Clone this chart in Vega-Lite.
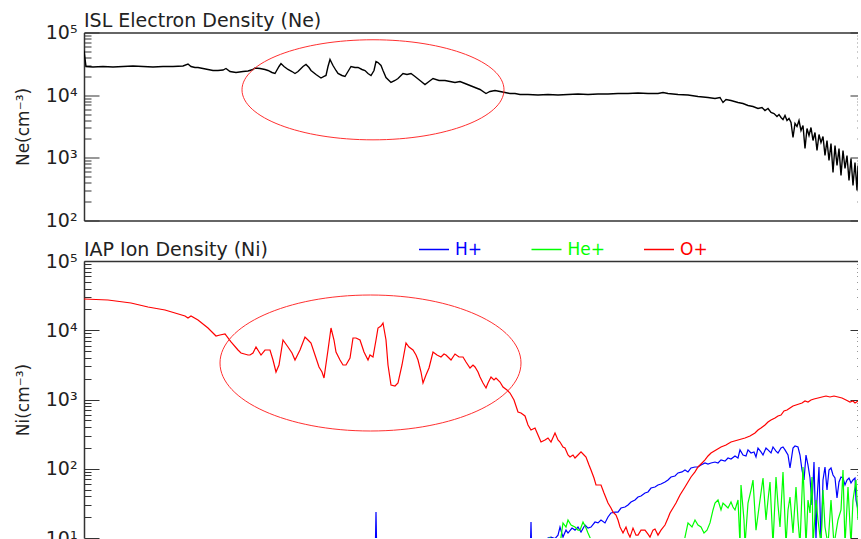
{
  "$schema": "https://vega.github.io/schema/vega-lite/v6.json",
  "background": "white",
  "padding": {"left": 14, "top": 11.5, "right": 0, "bottom": 0},
  "spacing": 9.5,
  "config": {
    "view": {"stroke": null},
    "font": "DejaVu Sans",
    "axis": {"domainColor": "#333", "domainWidth": 1.5, "tickColor": "#333", "labelColor": "#222", "titleColor": "#222", "labelFont": "DejaVu Sans", "titleFont": "DejaVu Sans", "labelFontSize": 19, "titleFontSize": 17, "titleFontWeight": "normal"},
    "title": {"font": "DejaVu Sans", "fontSize": 19, "fontWeight": "normal", "color": "#222", "anchor": "start", "frame": "group", "baseline": "alphabetic", "offset": -7.5}
  },
  "datasets": {
    "ne": [
      {"t":0,"ne":51620},{"t":2,"ne":28680},{"t":9,"ne":28150},{"t":19,"ne":28680},{"t":29,"ne":28150},{"t":39,"ne":28680},{"t":49,"ne":29210},{"t":59,"ne":28680},{"t":69,"ne":28150},{"t":79,"ne":28680},{"t":89,"ne":28680},{"t":99,"ne":29210},{"t":104,"ne":31440},{"t":107,"ne":28680},{"t":111,"ne":27640},{"t":114,"ne":27640},{"t":119,"ne":26650},{"t":124,"ne":25680},{"t":129,"ne":24760},{"t":134,"ne":24760},{"t":139,"ne":25210},{"t":142,"ne":26650},{"t":146,"ne":23860},{"t":152,"ne":23000},{"t":159,"ne":23860},{"t":164,"ne":24310},{"t":169,"ne":25680},{"t":171,"ne":27140},{"t":176,"ne":26650},{"t":181,"ne":25680},{"t":184,"ne":24760},{"t":188,"ne":23000},{"t":191,"ne":22170},{"t":195,"ne":28680},{"t":197,"ne":32020},{"t":200,"ne":28680},{"t":204,"ne":25680},{"t":208,"ne":23860},{"t":211,"ne":22170},{"t":214,"ne":23860},{"t":216,"ne":25680},{"t":219,"ne":28680},{"t":222,"ne":30870},{"t":225,"ne":27640},{"t":227,"ne":24760},{"t":232,"ne":21370},{"t":237,"ne":18790},{"t":240,"ne":19860},{"t":242,"ne":20600},{"t":244,"ne":28680},{"t":246,"ne":37070},{"t":248,"ne":32020},{"t":249,"ne":29750},{"t":252,"ne":24760},{"t":254,"ne":22170},{"t":258,"ne":20600},{"t":261,"ne":19860},{"t":264,"ne":23860},{"t":267,"ne":28680},{"t":271,"ne":27640},{"t":274,"ne":27640},{"t":278,"ne":25680},{"t":281,"ne":24760},{"t":284,"ne":22170},{"t":287,"ne":20600},{"t":290,"ne":24760},{"t":292,"ne":34460},{"t":294,"ne":33210},{"t":297,"ne":29750},{"t":299,"ne":24760},{"t":302,"ne":19140},{"t":305,"ne":17150},{"t":307,"ne":15930},{"t":311,"ne":17150},{"t":314,"ne":18450},{"t":317,"ne":20600},{"t":319,"ne":22170},{"t":323,"ne":21370},{"t":327,"ne":22170},{"t":331,"ne":19860},{"t":336,"ne":17150},{"t":341,"ne":14800},{"t":345,"ne":16530},{"t":349,"ne":18450},{"t":355,"ne":17150},{"t":361,"ne":17150},{"t":366,"ne":16530},{"t":371,"ne":15930},{"t":376,"ne":16530},{"t":381,"ne":15360},{"t":386,"ne":14260},{"t":391,"ne":13260},{"t":396,"ne":12320},{"t":402,"ne":10630},{"t":406,"ne":11450},{"t":411,"ne":11870},{"t":416,"ne":11450},{"t":421,"ne":11030},{"t":426,"ne":10630},{"t":431,"ne":10630},{"t":436,"ne":10250},{"t":444,"ne":10250},{"t":454,"ne":10060},{"t":464,"ne":10250},{"t":474,"ne":10060},{"t":484,"ne":10250},{"t":494,"ne":10440},{"t":504,"ne":10250},{"t":514,"ne":10440},{"t":524,"ne":10440},{"t":534,"ne":10630},{"t":544,"ne":10630},{"t":554,"ne":10830},{"t":564,"ne":10630},{"t":574,"ne":10630},{"t":579,"ne":11030},{"t":584,"ne":10630},{"t":594,"ne":10250},{"t":604,"ne":10060},{"t":614,"ne":9520},{"t":624,"ne":9180},{"t":631,"ne":8850},{"t":636,"ne":9180},{"t":639,"ne":7640},{"t":642,"ne":8530},{"t":647,"ne":8220},{"t":654,"ne":7640},{"t":659,"ne":7365},{"t":664,"ne":6840},{"t":669,"ne":6595},{"t":674,"ne":6130},{"t":678,"ne":6360},{"t":681,"ne":5690},{"t":684,"ne":6130},{"t":687,"ne":5290},{"t":690,"ne":5100},{"t":693,"ne":4566},{"t":695,"ne":4917},{"t":697,"ne":4403},{"t":699,"ne":4090},{"t":701,"ne":4740},{"t":703,"ne":3940},{"t":705,"ne":4240},{"t":707,"ne":3660},{"t":709,"ne":2110},{"t":711,"ne":3532},{"t":713,"ne":3163},{"t":715,"ne":3940},{"t":717,"ne":2730},{"t":719,"ne":3280},{"t":721,"ne":1410},{"t":723,"ne":2940},{"t":725,"ne":2270},{"t":727,"ne":3049},{"t":729,"ne":1890},{"t":731,"ne":2537},{"t":733,"ne":1310},{"t":735,"ne":2357},{"t":737,"ne":1757},{"t":739,"ne":2190},{"t":741,"ne":1090},{"t":743,"ne":1890},{"t":745,"ne":907},{"t":747,"ne":1690},{"t":749,"ne":583},{"t":751,"ne":1570},{"t":753,"ne":755},{"t":755,"ne":1410},{"t":757,"ne":523},{"t":759,"ne":1310},{"t":761,"ne":676},{"t":763,"ne":1090},{"t":765,"ne":435},{"t":767,"ne":976},{"t":769,"ne":362},{"t":771,"ne":843},{"t":773,"ne":301},{"t":774,"ne":755}
    ],
    "ions": [
      {"t":0,"sp":"H+","n":4},{"t":291,"sp":"H+","n":4},{"t":292,"sp":"H+","n":23.7},{"t":293,"sp":"H+","n":4},{"t":446,"sp":"H+","n":4},{"t":447,"sp":"H+","n":17},{"t":448,"sp":"H+","n":4},{"t":459,"sp":"H+","n":4},{"t":464,"sp":"H+","n":10},{"t":467,"sp":"H+","n":10.3},{"t":471,"sp":"H+","n":9.8},{"t":474,"sp":"H+","n":11},{"t":476,"sp":"H+","n":14.4},{"t":479,"sp":"H+","n":10.3},{"t":482,"sp":"H+","n":13},{"t":484,"sp":"H+","n":11.8},{"t":488,"sp":"H+","n":13.9},{"t":491,"sp":"H+","n":13},{"t":494,"sp":"H+","n":14.4},{"t":497,"sp":"H+","n":12.2},{"t":501,"sp":"H+","n":15.4},{"t":504,"sp":"H+","n":13.9},{"t":507,"sp":"H+","n":14.4},{"t":511,"sp":"H+","n":17},{"t":514,"sp":"H+","n":16.5},{"t":517,"sp":"H+","n":18.2},{"t":521,"sp":"H+","n":16.5},{"t":524,"sp":"H+","n":20.1},{"t":527,"sp":"H+","n":23},{"t":531,"sp":"H+","n":23.7},{"t":534,"sp":"H+","n":23.7},{"t":537,"sp":"H+","n":27.1},{"t":541,"sp":"H+","n":28},{"t":544,"sp":"H+","n":30},{"t":547,"sp":"H+","n":33.1},{"t":551,"sp":"H+","n":35.4},{"t":554,"sp":"H+","n":39.1},{"t":557,"sp":"H+","n":40.4},{"t":561,"sp":"H+","n":44.6},{"t":564,"sp":"H+","n":46.2},{"t":567,"sp":"H+","n":52.7},{"t":571,"sp":"H+","n":54.5},{"t":574,"sp":"H+","n":58.3},{"t":577,"sp":"H+","n":60.2},{"t":581,"sp":"H+","n":64.4},{"t":584,"sp":"H+","n":68.8},{"t":587,"sp":"H+","n":76},{"t":591,"sp":"H+","n":78.6},{"t":594,"sp":"H+","n":87},{"t":598,"sp":"H+","n":90},{"t":601,"sp":"H+","n":96},{"t":604,"sp":"H+","n":90},{"t":607,"sp":"H+","n":102.5},{"t":611,"sp":"H+","n":106},{"t":614,"sp":"H+","n":106},{"t":617,"sp":"H+","n":113},{"t":621,"sp":"H+","n":121},{"t":624,"sp":"H+","n":117},{"t":627,"sp":"H+","n":121},{"t":631,"sp":"H+","n":125},{"t":634,"sp":"H+","n":121},{"t":637,"sp":"H+","n":134},{"t":641,"sp":"H+","n":129},{"t":644,"sp":"H+","n":143},{"t":647,"sp":"H+","n":138},{"t":651,"sp":"H+","n":153},{"t":654,"sp":"H+","n":143},{"t":656,"sp":"H+","n":187},{"t":659,"sp":"H+","n":158},{"t":662,"sp":"H+","n":153},{"t":664,"sp":"H+","n":187},{"t":667,"sp":"H+","n":169},{"t":670,"sp":"H+","n":175},{"t":672,"sp":"H+","n":148},{"t":674,"sp":"H+","n":199},{"t":677,"sp":"H+","n":175},{"t":679,"sp":"H+","n":158},{"t":682,"sp":"H+","n":199},{"t":684,"sp":"H+","n":187},{"t":687,"sp":"H+","n":169},{"t":689,"sp":"H+","n":206},{"t":692,"sp":"H+","n":180},{"t":694,"sp":"H+","n":169},{"t":697,"sp":"H+","n":199},{"t":699,"sp":"H+","n":206},{"t":701,"sp":"H+","n":187},{"t":704,"sp":"H+","n":158},{"t":706,"sp":"H+","n":102.5},{"t":709,"sp":"H+","n":199},{"t":711,"sp":"H+","n":213},{"t":714,"sp":"H+","n":206},{"t":716,"sp":"H+","n":158},{"t":718,"sp":"H+","n":96},{"t":720,"sp":"H+","n":68.8},{"t":722,"sp":"H+","n":158},{"t":724,"sp":"H+","n":113},{"t":726,"sp":"H+","n":73.5},{"t":728,"sp":"H+","n":30},{"t":730,"sp":"H+","n":125},{"t":732,"sp":"H+","n":9.5},{"t":733,"sp":"H+","n":35.4},{"t":735,"sp":"H+","n":106},{"t":737,"sp":"H+","n":8},{"t":739,"sp":"H+","n":68.8},{"t":741,"sp":"H+","n":106},{"t":743,"sp":"H+","n":49.3},{"t":745,"sp":"H+","n":96},{"t":747,"sp":"H+","n":102.5},{"t":749,"sp":"H+","n":81.2},{"t":751,"sp":"H+","n":73.5},{"t":753,"sp":"H+","n":37.8},{"t":755,"sp":"H+","n":64.4},{"t":757,"sp":"H+","n":76},{"t":759,"sp":"H+","n":73.5},{"t":761,"sp":"H+","n":58.3},{"t":763,"sp":"H+","n":68.8},{"t":765,"sp":"H+","n":73.5},{"t":767,"sp":"H+","n":62.3},{"t":769,"sp":"H+","n":68.8},{"t":771,"sp":"H+","n":73.5},{"t":772,"sp":"H+","n":35.4},{"t":774,"sp":"H+","n":25.4},
      {"t":0,"sp":"He+","n":4},{"t":462,"sp":"He+","n":4},{"t":466,"sp":"He+","n":10.3},{"t":469,"sp":"He+","n":4},{"t":475,"sp":"He+","n":4},{"t":477,"sp":"He+","n":10.3},{"t":479,"sp":"He+","n":16.5},{"t":482,"sp":"He+","n":14.4},{"t":484,"sp":"He+","n":18.2},{"t":487,"sp":"He+","n":15.4},{"t":491,"sp":"He+","n":14.4},{"t":494,"sp":"He+","n":13},{"t":496,"sp":"He+","n":13},{"t":499,"sp":"He+","n":17},{"t":502,"sp":"He+","n":13.9},{"t":504,"sp":"He+","n":11.8},{"t":507,"sp":"He+","n":9.4},{"t":510,"sp":"He+","n":4},{"t":597,"sp":"He+","n":4},{"t":601,"sp":"He+","n":10.3},{"t":604,"sp":"He+","n":16.5},{"t":608,"sp":"He+","n":14.4},{"t":611,"sp":"He+","n":18.2},{"t":614,"sp":"He+","n":15.4},{"t":617,"sp":"He+","n":14.4},{"t":620,"sp":"He+","n":11.8},{"t":623,"sp":"He+","n":13},{"t":626,"sp":"He+","n":16.5},{"t":629,"sp":"He+","n":25.4},{"t":631,"sp":"He+","n":32},{"t":634,"sp":"He+","n":35.4},{"t":637,"sp":"He+","n":25.4},{"t":639,"sp":"He+","n":32},{"t":641,"sp":"He+","n":30},{"t":644,"sp":"He+","n":27.1},{"t":647,"sp":"He+","n":33.1},{"t":649,"sp":"He+","n":28},{"t":651,"sp":"He+","n":25.4},{"t":654,"sp":"He+","n":35.4},{"t":656,"sp":"He+","n":8},{"t":657,"sp":"He+","n":58.3},{"t":660,"sp":"He+","n":18.2},{"t":661,"sp":"He+","n":8},{"t":664,"sp":"He+","n":32},{"t":667,"sp":"He+","n":49.3},{"t":669,"sp":"He+","n":68.8},{"t":672,"sp":"He+","n":13},{"t":674,"sp":"He+","n":21.5},{"t":676,"sp":"He+","n":35.4},{"t":679,"sp":"He+","n":73.5},{"t":682,"sp":"He+","n":18.2},{"t":684,"sp":"He+","n":35.4},{"t":686,"sp":"He+","n":64.4},{"t":689,"sp":"He+","n":8},{"t":692,"sp":"He+","n":76},{"t":694,"sp":"He+","n":30},{"t":696,"sp":"He+","n":14.4},{"t":699,"sp":"He+","n":90},{"t":702,"sp":"He+","n":8},{"t":704,"sp":"He+","n":25.4},{"t":706,"sp":"He+","n":39.1},{"t":709,"sp":"He+","n":11.8},{"t":712,"sp":"He+","n":54.5},{"t":714,"sp":"He+","n":18.2},{"t":716,"sp":"He+","n":8},{"t":719,"sp":"He+","n":106},{"t":722,"sp":"He+","n":8},{"t":724,"sp":"He+","n":35.4},{"t":726,"sp":"He+","n":23},{"t":728,"sp":"He+","n":76},{"t":729,"sp":"He+","n":8},{"t":732,"sp":"He+","n":35.4},{"t":734,"sp":"He+","n":18.2},{"t":737,"sp":"He+","n":8},{"t":739,"sp":"He+","n":49.3},{"t":741,"sp":"He+","n":14.4},{"t":744,"sp":"He+","n":8},{"t":747,"sp":"He+","n":35.4},{"t":750,"sp":"He+","n":8},{"t":754,"sp":"He+","n":18.2},{"t":757,"sp":"He+","n":25.4},{"t":759,"sp":"He+","n":96},{"t":761,"sp":"He+","n":8},{"t":764,"sp":"He+","n":54.5},{"t":767,"sp":"He+","n":8},{"t":769,"sp":"He+","n":35.4},{"t":772,"sp":"He+","n":68.8},{"t":774,"sp":"He+","n":18.2},
      {"t":0,"sp":"O+","n":28270},{"t":24,"sp":"O+","n":27340},{"t":47,"sp":"O+","n":24750},{"t":64,"sp":"O+","n":21660},{"t":81,"sp":"O+","n":19610},{"t":101,"sp":"O+","n":16060},{"t":104,"sp":"O+","n":15030},{"t":107,"sp":"O+","n":16060},{"t":114,"sp":"O+","n":14060},{"t":124,"sp":"O+","n":10780},{"t":132,"sp":"O+","n":8260},{"t":136,"sp":"O+","n":8540},{"t":141,"sp":"O+","n":8830},{"t":147,"sp":"O+","n":6770},{"t":154,"sp":"O+","n":5185},{"t":157,"sp":"O+","n":4695},{"t":164,"sp":"O+","n":4390},{"t":166,"sp":"O+","n":4390},{"t":169,"sp":"O+","n":4695},{"t":172,"sp":"O+","n":5730},{"t":177,"sp":"O+","n":4390},{"t":181,"sp":"O+","n":5185},{"t":186,"sp":"O+","n":5185},{"t":189,"sp":"O+","n":3720},{"t":192,"sp":"O+","n":2495},{"t":195,"sp":"O+","n":3150},{"t":199,"sp":"O+","n":7230},{"t":204,"sp":"O+","n":5730},{"t":208,"sp":"O+","n":4695},{"t":211,"sp":"O+","n":3720},{"t":216,"sp":"O+","n":5185},{"t":221,"sp":"O+","n":7990},{"t":224,"sp":"O+","n":7230},{"t":227,"sp":"O+","n":6545},{"t":231,"sp":"O+","n":4390},{"t":235,"sp":"O+","n":2947},{"t":238,"sp":"O+","n":2495},{"t":240,"sp":"O+","n":2044},{"t":244,"sp":"O+","n":5185},{"t":247,"sp":"O+","n":10780},{"t":250,"sp":"O+","n":7230},{"t":252,"sp":"O+","n":4850},{"t":256,"sp":"O+","n":3720},{"t":259,"sp":"O+","n":3150},{"t":262,"sp":"O+","n":3150},{"t":266,"sp":"O+","n":3975},{"t":269,"sp":"O+","n":7730},{"t":272,"sp":"O+","n":7730},{"t":276,"sp":"O+","n":7230},{"t":280,"sp":"O+","n":4850},{"t":284,"sp":"O+","n":3720},{"t":286,"sp":"O+","n":4390},{"t":289,"sp":"O+","n":4110},{"t":292,"sp":"O+","n":7230},{"t":294,"sp":"O+","n":10780},{"t":297,"sp":"O+","n":11520},{"t":299,"sp":"O+","n":12730},{"t":302,"sp":"O+","n":7230},{"t":304,"sp":"O+","n":3150},{"t":307,"sp":"O+","n":1620},{"t":311,"sp":"O+","n":1567},{"t":314,"sp":"O+","n":1731},{"t":318,"sp":"O+","n":3150},{"t":322,"sp":"O+","n":6545},{"t":325,"sp":"O+","n":5730},{"t":329,"sp":"O+","n":5185},{"t":332,"sp":"O+","n":4390},{"t":334,"sp":"O+","n":3720},{"t":337,"sp":"O+","n":2495},{"t":339,"sp":"O+","n":1731},{"t":342,"sp":"O+","n":2258},{"t":345,"sp":"O+","n":2850},{"t":349,"sp":"O+","n":4850},{"t":353,"sp":"O+","n":4390},{"t":357,"sp":"O+","n":4110},{"t":360,"sp":"O+","n":4540},{"t":362,"sp":"O+","n":4390},{"t":365,"sp":"O+","n":3975},{"t":367,"sp":"O+","n":3720},{"t":371,"sp":"O+","n":4540},{"t":375,"sp":"O+","n":4110},{"t":379,"sp":"O+","n":4110},{"t":382,"sp":"O+","n":3480},{"t":386,"sp":"O+","n":2850},{"t":389,"sp":"O+","n":3150},{"t":391,"sp":"O+","n":2947},{"t":394,"sp":"O+","n":2495},{"t":396,"sp":"O+","n":2113},{"t":399,"sp":"O+","n":1731},{"t":402,"sp":"O+","n":1466},{"t":404,"sp":"O+","n":1731},{"t":407,"sp":"O+","n":2113},{"t":410,"sp":"O+","n":1912},{"t":412,"sp":"O+","n":2044},{"t":416,"sp":"O+","n":1789},{"t":419,"sp":"O+","n":1516},{"t":423,"sp":"O+","n":1371},{"t":426,"sp":"O+","n":1241},{"t":430,"sp":"O+","n":983},{"t":434,"sp":"O+","n":660},{"t":437,"sp":"O+","n":639},{"t":441,"sp":"O+","n":578},{"t":444,"sp":"O+","n":428},{"t":447,"sp":"O+","n":363},{"t":451,"sp":"O+","n":388},{"t":454,"sp":"O+","n":307},{"t":457,"sp":"O+","n":243},{"t":461,"sp":"O+","n":260},{"t":464,"sp":"O+","n":278},{"t":467,"sp":"O+","n":243},{"t":471,"sp":"O+","n":328},{"t":474,"sp":"O+","n":260},{"t":476,"sp":"O+","n":243},{"t":479,"sp":"O+","n":206},{"t":481,"sp":"O+","n":199},{"t":484,"sp":"O+","n":158},{"t":486,"sp":"O+","n":148},{"t":489,"sp":"O+","n":158},{"t":491,"sp":"O+","n":143},{"t":494,"sp":"O+","n":158},{"t":497,"sp":"O+","n":175},{"t":500,"sp":"O+","n":158},{"t":502,"sp":"O+","n":148},{"t":505,"sp":"O+","n":113},{"t":507,"sp":"O+","n":96},{"t":510,"sp":"O+","n":73.5},{"t":512,"sp":"O+","n":58.3},{"t":517,"sp":"O+","n":58.3},{"t":520,"sp":"O+","n":44.6},{"t":524,"sp":"O+","n":32},{"t":527,"sp":"O+","n":27.1},{"t":529,"sp":"O+","n":23.7},{"t":532,"sp":"O+","n":21.5},{"t":534,"sp":"O+","n":18.2},{"t":536,"sp":"O+","n":14.4},{"t":539,"sp":"O+","n":11.8},{"t":542,"sp":"O+","n":14.4},{"t":544,"sp":"O+","n":11.8},{"t":546,"sp":"O+","n":10.3},{"t":549,"sp":"O+","n":13.9},{"t":552,"sp":"O+","n":11},{"t":554,"sp":"O+","n":11},{"t":557,"sp":"O+","n":13},{"t":561,"sp":"O+","n":13},{"t":564,"sp":"O+","n":11.4},{"t":566,"sp":"O+","n":10.3},{"t":569,"sp":"O+","n":13},{"t":571,"sp":"O+","n":13.5},{"t":574,"sp":"O+","n":11},{"t":577,"sp":"O+","n":13},{"t":581,"sp":"O+","n":15.4},{"t":584,"sp":"O+","n":19.4},{"t":586,"sp":"O+","n":23},{"t":589,"sp":"O+","n":27.1},{"t":592,"sp":"O+","n":32},{"t":596,"sp":"O+","n":41.8},{"t":601,"sp":"O+","n":54.5},{"t":604,"sp":"O+","n":64.4},{"t":607,"sp":"O+","n":76},{"t":611,"sp":"O+","n":90},{"t":614,"sp":"O+","n":106},{"t":618,"sp":"O+","n":121},{"t":621,"sp":"O+","n":134},{"t":624,"sp":"O+","n":153},{"t":627,"sp":"O+","n":169},{"t":632,"sp":"O+","n":187},{"t":637,"sp":"O+","n":206},{"t":642,"sp":"O+","n":220},{"t":647,"sp":"O+","n":243},{"t":654,"sp":"O+","n":260},{"t":661,"sp":"O+","n":278},{"t":666,"sp":"O+","n":297},{"t":671,"sp":"O+","n":328},{"t":674,"sp":"O+","n":363},{"t":677,"sp":"O+","n":388},{"t":681,"sp":"O+","n":428},{"t":684,"sp":"O+","n":473},{"t":687,"sp":"O+","n":506},{"t":691,"sp":"O+","n":541},{"t":694,"sp":"O+","n":578},{"t":697,"sp":"O+","n":597},{"t":700,"sp":"O+","n":682},{"t":703,"sp":"O+","n":706},{"t":706,"sp":"O+","n":754},{"t":709,"sp":"O+","n":805},{"t":712,"sp":"O+","n":833},{"t":715,"sp":"O+","n":861},{"t":718,"sp":"O+","n":890},{"t":721,"sp":"O+","n":951},{"t":724,"sp":"O+","n":920},{"t":727,"sp":"O+","n":983},{"t":730,"sp":"O+","n":1017},{"t":734,"sp":"O+","n":1051},{"t":738,"sp":"O+","n":1087},{"t":742,"sp":"O+","n":1123},{"t":746,"sp":"O+","n":1087},{"t":750,"sp":"O+","n":1123},{"t":754,"sp":"O+","n":1087},{"t":758,"sp":"O+","n":1051},{"t":762,"sp":"O+","n":983},{"t":766,"sp":"O+","n":920},{"t":769,"sp":"O+","n":951},{"t":771,"sp":"O+","n":890},{"t":774,"sp":"O+","n":951}
    ],
    "ellTop": [{"t": 289, "v": 12180}],
    "ellBot": [{"t": 286.5, "v": 3365}]
  },
  "vconcat": [
    {
      "width": 774,
      "height": 188,
      "title": {"text": "ISL Electron Density (Ne)"},
      "layer": [
        {
          "data": {"name": "ne"},
          "mark": {"type": "line", "color": "#000000", "strokeWidth": 1.4, "clip": true},
          "encoding": {
            "x": {"field": "t", "type": "quantitative", "scale": {"domain": [0, 774], "nice": false, "zero": false},
                  "axis": {"orient": "bottom", "ticks": false, "labels": false, "title": null, "domain": true, "grid": false}},
            "y": {"field": "ne", "type": "quantitative", "scale": {"type": "log", "domain": [100, 100000], "nice": false},
                  "axis": {
                    "orient": "left",
                    "values": [100,200,300,400,500,600,700,800,900,1000,2000,3000,4000,5000,6000,7000,8000,9000,10000,20000,30000,40000,50000,60000,70000,80000,90000,100000],
                    "ticks": false,
                    "grid": true, "gridColor": "#333", "gridWidth": 1.2, "gridOpacity": 1,
                    "gridDash": {"condition": {"test": "abs(log(datum.value)/LN10 - round(log(datum.value)/LN10)) < 0.001", "value": [15, 751, 8, 100]}, "value": [7, 766, 1, 100]},
                    "labelExpr": "abs(log(datum.value)/LN10 - round(log(datum.value)/LN10)) < 0.001 ? '10' + ['⁰','¹','²','³','⁴','⁵'][round(log(datum.value)/LN10)] : ''",
                    "labelOverlap": false, "labelFlush": false, "labelBound": false,
                    "labelPadding": 7,
                    "title": "Ne(cm⁻³)", "titlePadding": 13,
                    "domain": true
                  }}
          }
        },
        {
          "data": {"name": "ellTop"},
          "mark": {"type": "point", "shape": "M -1 0 C -1 -0.211 -0.5523 -0.382 0 -0.382 C 0.5523 -0.382 1 -0.211 1 0 C 1 0.211 0.5523 0.382 0 0.382 C -0.5523 0.382 -1 0.211 -1 0 Z", "size": 68644, "filled": false, "stroke": "#ff3030", "strokeWidth": 1, "opacity": 1},
          "encoding": {
            "x": {"field": "t", "type": "quantitative", "scale": {"domain": [0, 774], "nice": false, "zero": false},
                  "axis": {"orient": "top", "ticks": false, "labels": false, "title": null, "domain": true, "grid": false}},
            "y": {"field": "v", "type": "quantitative", "scale": {"type": "log", "domain": [100, 100000], "nice": false}, "axis": null}
          }
        }
      ],
      "resolve": {"axis": {"x": "independent", "y": "independent"}}
    },
    {
      "width": 774,
      "height": 277,
      "title": {"text": "IAP Ion Density (Ni)"},
      "layer": [
        {
          "data": {"name": "ions"},
          "mark": {"type": "line", "strokeWidth": 1.2, "clip": true},
          "encoding": {
            "x": {"field": "t", "type": "quantitative", "scale": {"domain": [0, 774], "nice": false, "zero": false},
                  "axis": {"orient": "top", "ticks": false, "labels": false, "title": null, "domain": true, "grid": false}},
            "y": {"field": "n", "type": "quantitative", "scale": {"type": "log", "domain": [10, 100000], "nice": false},
                  "axis": {
                    "orient": "left",
                    "values": [10,20,30,40,50,60,70,80,90,100,200,300,400,500,600,700,800,900,1000,2000,3000,4000,5000,6000,7000,8000,9000,10000,20000,30000,40000,50000,60000,70000,80000,90000,100000],
                    "ticks": false,
                    "grid": true, "gridColor": "#333", "gridWidth": 1.2, "gridOpacity": 1,
                    "gridDash": {"condition": {"test": "abs(log(datum.value)/LN10 - round(log(datum.value)/LN10)) < 0.001", "value": [15, 751, 8, 100]}, "value": [7, 766, 1, 100]},
                    "labelExpr": "abs(log(datum.value)/LN10 - round(log(datum.value)/LN10)) < 0.001 ? '10' + ['⁰','¹','²','³','⁴','⁵'][round(log(datum.value)/LN10)] : ''",
                    "labelOverlap": false, "labelFlush": false, "labelBound": false,
                    "labelPadding": 7,
                    "title": "Ni(cm⁻³)", "titlePadding": 13,
                    "domain": true
                  }},
            "color": {"field": "sp", "type": "nominal",
                      "scale": {"domain": ["H+", "He+", "O+"], "range": ["#0000ff", "#00ff00", "#ff0000"]},
                      "legend": {
                        "orient": "none", "legendX": 334, "legendY": 201, "direction": "horizontal", "title": null,
                        "symbolType": "stroke", "symbolSize": 900, "symbolStrokeWidth": 1.5,
                        "labelFont": "DejaVu Sans", "labelFontSize": 17, "labelOffset": 5,
                        "columnPadding": 35.5, "gridAlign": "all", "padding": 0,
                        "encode": {"labels": {"update": {"fill": [
                          {"test": "datum.value === 'H+'", "value": "#0000ff"},
                          {"test": "datum.value === 'He+'", "value": "#00ff00"},
                          {"value": "#ff0000"}
                        ]}}}
                      }}
          }
        },
        {
          "data": {"name": "ellBot"},
          "mark": {"type": "point", "shape": "M -1 0 C -1 -0.2495 -0.5523 -0.4518 0 -0.4518 C 0.5523 -0.4518 1 -0.2495 1 0 C 1 0.2495 0.5523 0.4518 0 0.4518 C -0.5523 0.4518 -1 0.2495 -1 0 Z", "size": 90601, "filled": false, "stroke": "#ff3030", "strokeWidth": 1, "opacity": 1},
          "encoding": {
            "x": {"field": "t", "type": "quantitative", "scale": {"domain": [0, 774], "nice": false, "zero": false},
                  "axis": {"orient": "top", "ticks": false, "labels": false, "title": null, "domain": true, "grid": false}},
            "y": {"field": "v", "type": "quantitative", "scale": {"type": "log", "domain": [10, 100000], "nice": false}, "axis": null}
          }
        }
      ],
      "resolve": {"axis": {"y": "independent"}}
    }
  ]
}
